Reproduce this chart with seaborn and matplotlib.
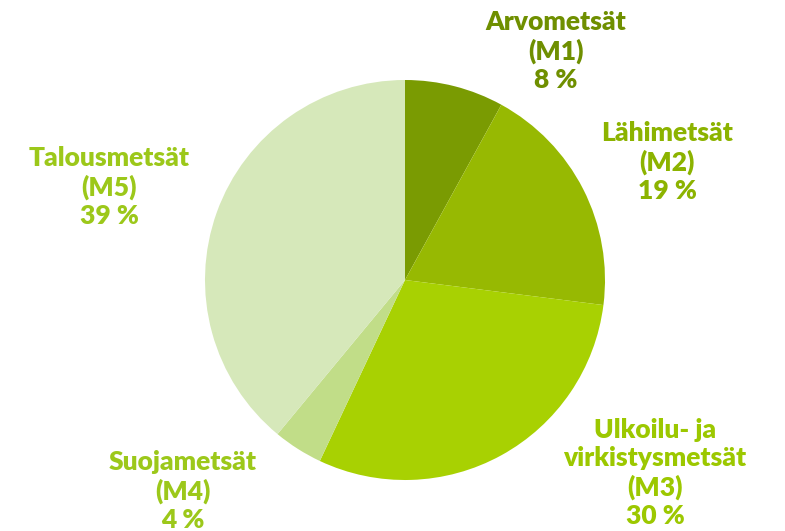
import matplotlib
matplotlib.use("Agg")
import matplotlib.pyplot as plt
import seaborn as sns

# forest classes (M1..M5), share in percent, clockwise from 12 o'clock
names = ["Arvometsät", "Lähimetsät", "Ulkoilu- ja\nvirkistysmetsät", "Suojametsät", "Talousmetsät"]
codes = ["M1", "M2", "M3", "M4", "M5"]
shares = [8, 19, 30, 4, 39]

wedge_colors = ["#7a9b02", "#97b902", "#a8d102", "#c1dd88", "#d6e8ba"]
label_colors = ["#6f8f00", "#8cb300", "#9cc800", "#9cc81a", "#9cc81a"]

# label anchor (center x, top y) in pixels
label_pos = [(556, 10), (667, 121), (655, 418), (183, 450), (109, 146)]


def main():
    sns.set_theme(style="white")
    plt.rcParams["font.family"] = ["Lato", "DejaVu Sans"]

    W, H = 785, 531
    fig = plt.figure(figsize=(W / 100, H / 100), dpi=100)
    fig.patch.set_facecolor("white")

    cx, cy, r = 405, 280, 200
    ax = fig.add_axes([(cx - r) / W, (H - cy - r) / H, 2 * r / W, 2 * r / H])
    ax.pie(shares, colors=wedge_colors, startangle=90, counterclock=False,
           wedgeprops=dict(linewidth=0))
    ax.set_xlim(-1, 1)
    ax.set_ylim(-1, 1)
    ax.set_aspect("equal")
    ax.axis("off")

    for name, code, val, col, (x, y) in zip(names, codes, shares, label_colors, label_pos):
        txt = f"{name}\n({code})\n{val} %"
        fig.text(x / W, 1 - y / H, txt, ha="center", va="top", color=col,
                 fontsize=19, fontweight="heavy", linespacing=1.2)

    plt.savefig("out.png", dpi=100, facecolor="white")
    plt.close()


main()
